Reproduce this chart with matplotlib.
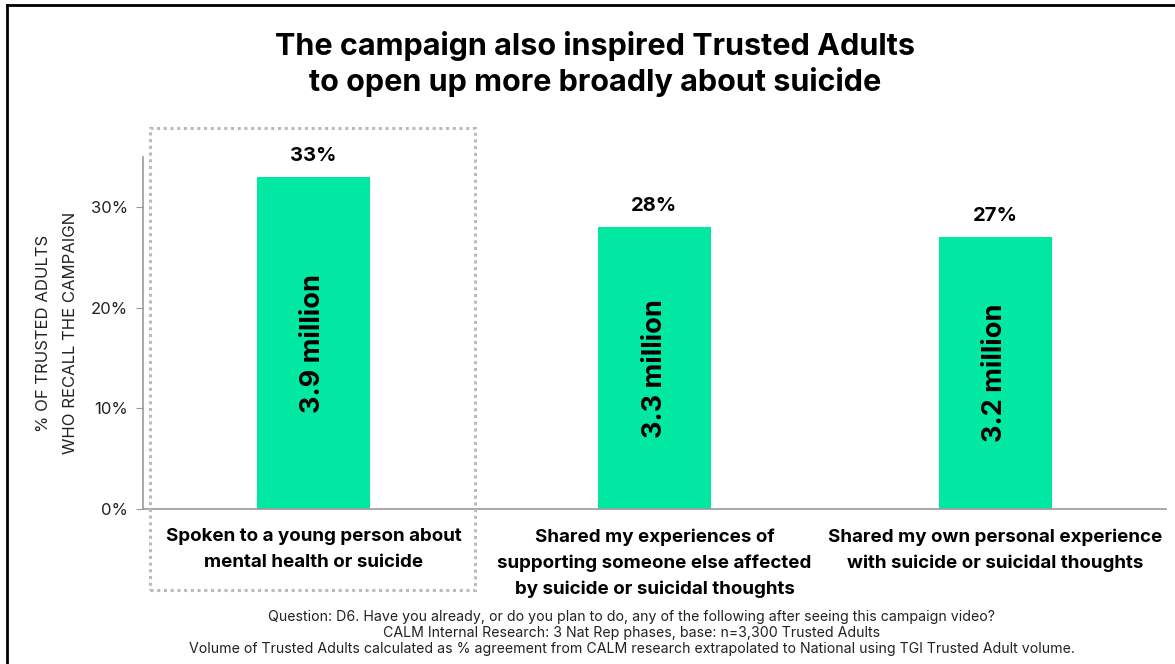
import matplotlib.pyplot as plt
from matplotlib.patches import Rectangle
from matplotlib.lines import Line2D

categories = ["Spoken to a young person about\nmental health or suicide",
              "Shared my experiences of\nsupporting someone else affected\nby suicide or suicidal thoughts",
              "Shared my own personal experience\nwith suicide or suicidal thoughts"]
values = [33, 28, 27]
volumes = ["3.9 million", "3.3 million", "3.2 million"]
yticks = [0, 10, 20, 30]

title = "The campaign also inspired Trusted Adults\nto open up more broadly about suicide"
footnote = ("Question: D6. Have you already, or do you plan to do, any of the following after seeing this campaign video?\n"
            "CALM Internal Research: 3 Nat Rep phases, base: n=3,300 Trusted Adults\n"
            "Volume of Trusted Adults calculated as % agreement from CALM research extrapolated to National using TGI Trusted Adult volume.")

plt.rcParams['font.family'] = ['Inter', 'DejaVu Sans']
W, H = 1175, 664
fig = plt.figure(figsize=(W / 100, H / 100), dpi=100)
ax = fig.add_axes([143 / W, 1 - 509 / H, (1166 - 143) / W, (509 - 157) / H])

x = range(len(values))
ax.bar(x, values, width=0.33, color="#00E8A2")
ax.set_xlim(-0.5, 2.5)
ax.set_ylim(0, 35)
ax.set_yticks(yticks)
ax.set_yticklabels([f"{t}%" for t in yticks], fontsize=12, color="#222222")
ax.set_xticks([])
for s in ["top", "right"]:
    ax.spines[s].set_visible(False)
for s in ["left", "bottom"]:
    ax.spines[s].set_color("#999999")
    ax.spines[s].set_linewidth(1.2)
ax.tick_params(axis="y", length=5, color="#999999", pad=6)
ax.set_ylabel("% OF TRUSTED ADULTS\nWHO RECALL THE CAMPAIGN", fontsize=12, color="#222222",
              labelpad=9, linespacing=2.0)

for i, (v, vol, cat) in enumerate(zip(values, volumes, categories)):
    ax.text(i, v + 1.2, f"{v}%", ha="center", va="bottom", fontsize=14.5, fontweight="bold")
    ax.text(i, v / 2, vol, ha="center", va="center", rotation=90, fontsize=19.5, fontweight="bold")
    ax.text(i, -1.9, cat, ha="center", va="top", fontsize=13.5, fontweight="bold", linespacing=1.65)

fig.text(595 / W, 1 - 64 / H, title, ha="center", va="center", fontsize=22, fontweight="bold", linespacing=1.25)
fig.text(632 / W, 1 - 633 / H, footnote, ha="center", va="center", fontsize=10.2, color="#222222", linespacing=1.2)

# dotted highlight box
fig.patches.append(Rectangle((150 / W, 1 - 590 / H), 325 / W, 462 / H, transform=fig.transFigure,
                             fill=False, edgecolor="#BBBBBB", linestyle=(0, (1, 1.2)), linewidth=2.2))
# slide border
fig.lines.append(Line2D([7 / W, 7 / W], [0, 1 - 5 / H], transform=fig.transFigure, color="black", linewidth=2))
fig.lines.append(Line2D([7 / W, 1], [1 - 5 / H, 1 - 5 / H], transform=fig.transFigure, color="black", linewidth=2))

fig.savefig("out.png", dpi=100)
